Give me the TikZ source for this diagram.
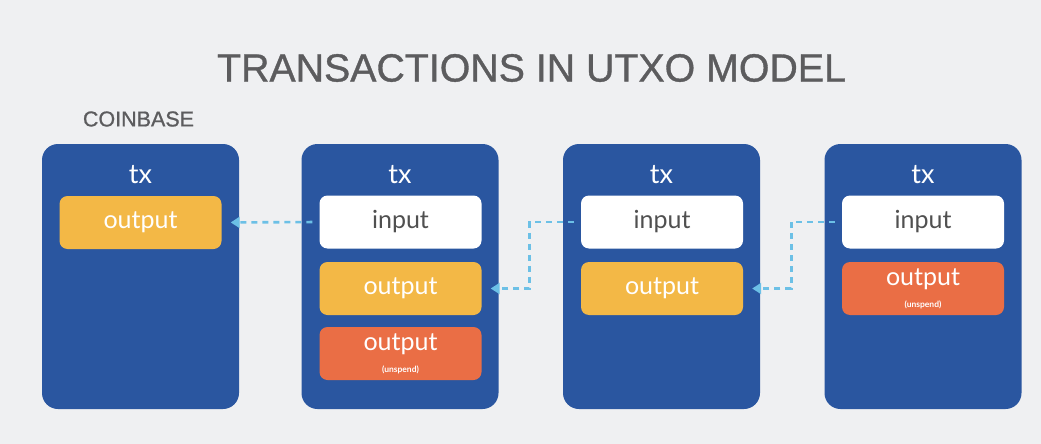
\documentclass[tikz,border=0pt]{standalone}
\usepackage{fontspec}
\setmainfont{Liberation Sans}
\newfontfamily\headfont[FakeBold=0.9]{Liberation Sans}
\newfontfamily\boxfont{Lato}
\usetikzlibrary{arrows.meta,calc}

\definecolor{bgcol}{HTML}{EFF0F2}
\definecolor{txblue}{HTML}{2A56A0}
\definecolor{spentcol}{HTML}{F3B846}
\definecolor{unspentcol}{HTML}{EA6E45}
\definecolor{titlegray}{HTML}{5C5C5E}
\definecolor{inputgray}{HTML}{505050}
\definecolor{linkblue}{HTML}{6CC0E6}

\tikzset{
  txbox/.style={fill=txblue, rounded corners=16pt, minimum width=197pt,
    minimum height=265pt, inner sep=0pt},
  txlabel/.style={text=white, font=\boxfont\fontsize{27}{27}\selectfont},
  slot/.style={rounded corners=8pt, minimum width=162pt, minimum height=53pt,
    inner sep=0pt, font=\boxfont\fontsize{25}{25}\selectfont},
  inbox/.style={slot, fill=white, text=inputgray},
  outbox/.style={slot, fill=spentcol, text=white},
  freebox/.style={slot, fill=unspentcol, text=white, align=center},
  link/.style={draw=linkblue, line width=2.6pt, dash pattern=on 6pt off 5pt,
    -{Triangle[length=9pt,width=11pt]}}
}

\newcommand{\unspent}{output\\[-3pt]{\bfseries\fontsize{8.5}{8.5}\selectfont (unspend)}}

\begin{document}
\begin{tikzpicture}[x=1pt,y=-1pt]
  \path[fill=bgcol] (0,0) rectangle (1041,444);
  \useasboundingbox (0,0) rectangle (1041,444);

  \node[text=titlegray, font=\headfont\fontsize{39.3}{39.3}\selectfont] (title) at (531.5,68) {TRANSACTIONS IN UTXO MODEL};
  \node[text=titlegray, font=\headfont\fontsize{21.5}{21.5}\selectfont] (coinbase) at (138.5,119) {COINBASE};

  % transaction boxes
  \node[txbox] (tx1) at (140.5,276.5) {};
  \node[txbox] (tx2) at (400,276.5) {};
  \node[txbox] (tx3) at (661.5,276.5) {};
  \node[txbox] (tx4) at (923,276.5) {};

  \node[txlabel] (t1) at (140.5,175) {tx};
  \node[txlabel] (t2) at (400,175) {tx};
  \node[txlabel] (t3) at (661.5,175) {tx};
  \node[txlabel] (t4) at (923,175) {tx};

  % coinbase transaction
  \node[outbox] (out1) at (140.5,222.5) {output};

  % second transaction
  \node[inbox] (in2) at (400.5,222) {input};
  \node[outbox] (out2) at (400.5,288.5) {output};
  \node[freebox] (free2) at (400.5,353.5) {\unspent};

  % third transaction
  \node[inbox] (in3) at (662,222) {input};
  \node[outbox] (out3) at (662,288.5) {output};

  % fourth transaction
  \node[inbox] (in4) at (923,222) {input};
  \node[freebox] (free4) at (923,288.5) {\unspent};

  % elbow columns between the boxes
  \coordinate (m23) at ($(tx2.east)!0.5!(tx3.west)$);
  \coordinate (m34) at ($(tx3.east)!0.5!(tx4.west)$);

  % spending links
  \draw[link, shorten <=7pt, shorten >=9pt] (in2.west) -- (out1.east);
  \draw[link, shorten >=9pt] ([xshift=-7pt]in3.west) -- ([xshift=-1pt]in3.west -| m23) |- (out2.east);
  \draw[link, shorten >=9pt] ([xshift=-7pt]in4.west) -- ([xshift=-1pt]in4.west -| m34) |- (out3.east);
\end{tikzpicture}
\end{document}
